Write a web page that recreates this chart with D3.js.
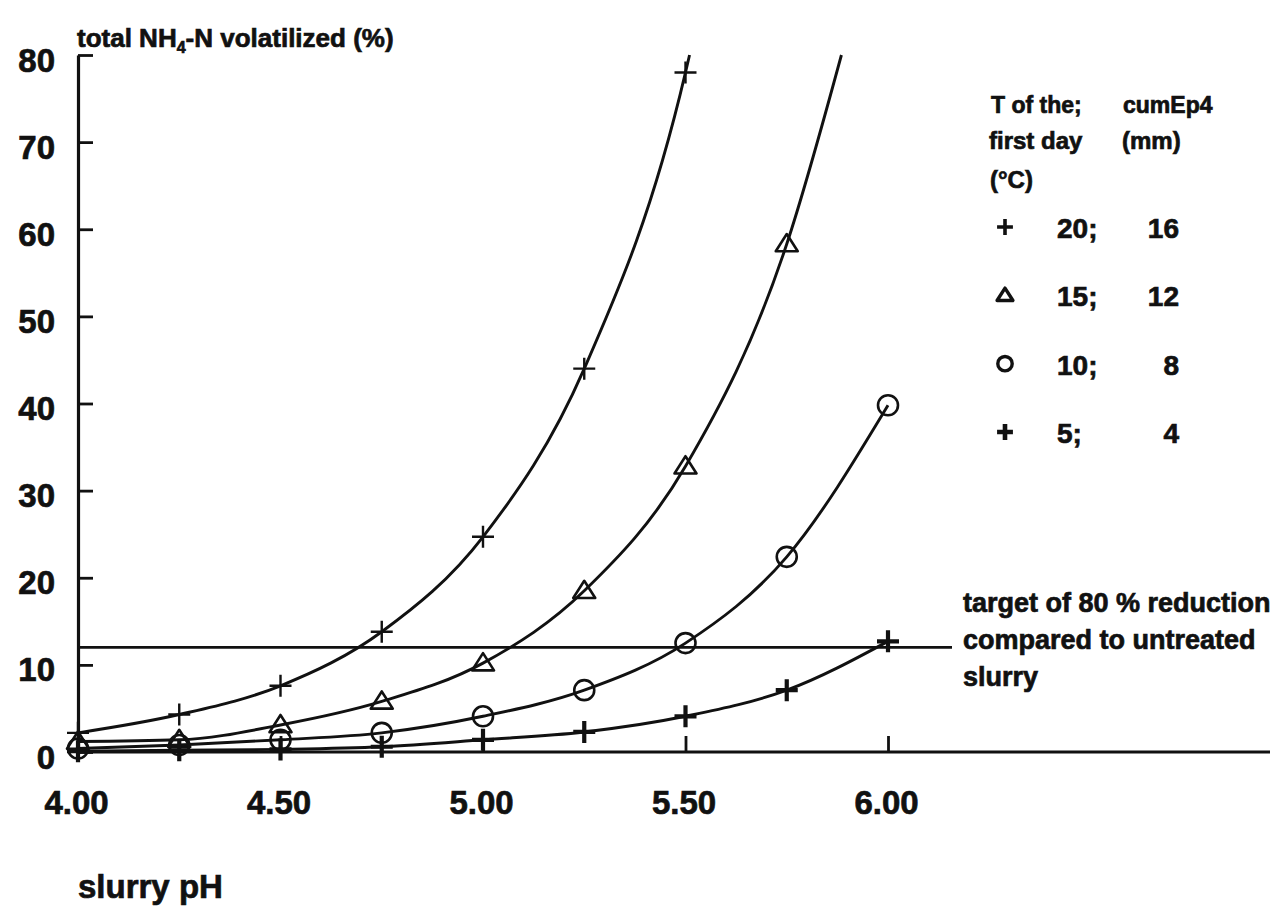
<!DOCTYPE html>
<html>
<head>
<meta charset="utf-8">
<script src="https://cdn.jsdelivr.net/npm/d3@7/dist/d3.min.js"></script>
<style>
  html, body { margin: 0; padding: 0; background: #ffffff; }
  svg { display: block; }
  text { font-family: "Liberation Sans", Arial, Helvetica, sans-serif; font-weight: bold; fill: #111;
         stroke: #111; stroke-width: 0.7px; }
</style>
</head>
<body>
<script>
// Slurry pH levels at which volatilization was computed
const phLevels = [4.00, 4.25, 4.50, 4.75, 5.00, 5.25, 5.50, 5.75, 6.00];

// Total NH4-N volatilized (%) per temperature scenario
const vol20 = [2.2, 4.3, 7.6, 13.8, 24.7, 44.0, 78.0];
const vol15 = [1.2, 1.4, 3.1, 5.8, 10.2, 18.5, 32.8, 58.3];
const vol10 = [0.4, 0.8, 1.4, 2.2, 4.1, 7.1, 12.5, 22.4, 39.8];
const vol5  = [0.1, 0.2, 0.3, 0.6, 1.4, 2.3, 4.1, 7.1, 12.7];

// Where the fitted curves leave the top of the plot
const fitEnd20 = [5.51, 80];
const fitEnd15 = [5.885, 80];

// Scenario descriptors: temperature of the first day and cumulative Ep (4 days)
const tempFirstDay = [20, 15, 10, 5];
const cumEp4 = [16, 12, 8, 4];

// Reduction target (80 % below untreated slurry)
const targetLevel = 12;

// Axis ticks
const xTicks = [4.00, 4.50, 5.00, 5.50, 6.00];
const yTicks = [0, 10, 20, 30, 40, 50, 60, 70, 80];

const W = 1280, H = 908;
const svg = d3.select("body").append("svg").attr("width", W).attr("height", H);

const x = d3.scaleLinear().domain([4, 6]).range([78, 888]);
const y = d3.scaleLinear().domain([0, 80]).range([752, 55]);

const ink = "#111";
const fontStack = "Liberation Sans, Arial, sans-serif";

// ---- marker shapes ----
function plusPath(s) { return `M${-s},0H${s}M0,${-s}V${s}`; }
function triPath(s) { return `M0,${-s}L${s * 1.1},${s * 0.72}L${-s * 1.1},${s * 0.72}Z`; }

const series = [
  { vals: vol20, end: fitEnd20, marker: "plus" },
  { vals: vol15, end: fitEnd15, marker: "tri" },
  { vals: vol10, end: null, marker: "circle" },
  { vals: vol5,  end: null, marker: "boldplus" }
];

function drawMarker(g, kind, cx, cy, scale) {
  const s = scale;
  const legendish = s < 1;
  if (kind === "plus") {
    g.append("path").attr("d", plusPath(11 * s)).attr("transform", `translate(${cx},${cy})`)
      .attr("stroke", ink).attr("stroke-width", legendish ? 3.6 : 2.4).attr("fill", "none");
  } else if (kind === "boldplus") {
    g.append("path").attr("d", plusPath(11 * s)).attr("transform", `translate(${cx},${cy})`)
      .attr("stroke", ink).attr("stroke-width", legendish ? 4.6 : 4.2).attr("fill", "none");
  } else if (kind === "tri") {
    g.append("path").attr("d", triPath(10 * s)).attr("transform", `translate(${cx},${cy})`)
      .attr("stroke", ink).attr("stroke-width", legendish ? 3.4 : 2.6).attr("fill", "none")
      .attr("stroke-linejoin", "round");
  } else {
    g.append("circle").attr("cx", cx).attr("cy", cy).attr("r", 10 * s)
      .attr("stroke", ink).attr("stroke-width", legendish ? 3.4 : 2.6).attr("fill", "none");
  }
}

// ---- axes ----
const yAxis = d3.axisLeft(y).tickValues(yTicks).tickSize(-15).tickSizeOuter(0).tickPadding(23)
  .tickFormat(d3.format("d"));
const gy = svg.append("g").attr("transform", `translate(${x(4)},0)`).call(yAxis);
gy.select(".domain").attr("stroke", ink).attr("stroke-width", 3.2);
gy.selectAll(".tick line").attr("stroke", ink).attr("stroke-width", 2.8);
gy.selectAll(".tick text").attr("font-size", 33).attr("dy", null).attr("y", 16)
  .attr("font-family", fontStack).attr("font-weight", "bold").attr("fill", ink);

const xAxis = d3.axisBottom(x).tickValues(xTicks).tickSize(-16).tickSizeOuter(0).tickPadding(0)
  .tickFormat(d3.format(".2f"));
const gx = svg.append("g").attr("transform", `translate(0,${y(0)})`).call(xAxis);
gx.select(".domain").remove();
gx.selectAll(".tick line").attr("stroke", ink).attr("stroke-width", 2.8);
gx.selectAll(".tick text").attr("font-size", 33).attr("dy", null).attr("y", 62).attr("x", -2)
  .attr("font-family", fontStack).attr("font-weight", "bold").attr("fill", ink);

// zero line runs across the full width
svg.append("line").attr("x1", x(4)).attr("x2", 1270).attr("y1", y(0)).attr("y2", y(0))
  .attr("stroke", ink).attr("stroke-width", 3.2);

// target line
svg.append("line").attr("x1", x(4)).attr("x2", 952).attr("y1", y(targetLevel)).attr("y2", y(targetLevel))
  .attr("stroke", ink).attr("stroke-width", 2.8);

// ---- curves + markers ----
const line = d3.line().x(d => x(d[0])).y(d => y(d[1])).curve(d3.curveMonotoneX);
const gData = svg.append("g");
series.forEach(s => {
  const pts = s.vals.map((v, i) => [phLevels[i], v]);
  const linePts = s.end ? pts.concat([s.end]) : pts;
  gData.append("path").attr("d", line(linePts)).attr("fill", "none")
    .attr("stroke", ink).attr("stroke-width", 2.9);
  pts.forEach(p => drawMarker(gData, s.marker, x(p[0]), y(p[1]), 1));
});

// ---- titles ----
const title = svg.append("text").attr("x", 77).attr("y", 47).attr("font-size", 26);
title.append("tspan").text("total NH");
title.append("tspan").text("4").attr("font-size", 16).attr("dy", 6);
title.append("tspan").text("-N volatilized (%)").attr("dy", -6);

svg.append("text").attr("x", 78).attr("y", 898).attr("font-size", 33).text("slurry pH");

// ---- legend ----
const lg = svg.append("g");
lg.append("text").attr("x", 991).attr("y", 113).attr("font-size", 23).text("T of the;");
lg.append("text").attr("x", 1123).attr("y", 113).attr("font-size", 23).text("cumEp4");
lg.append("text").attr("x", 989).attr("y", 149).attr("font-size", 24).text("first day");
lg.append("text").attr("x", 1122).attr("y", 149).attr("font-size", 24).text("(mm)");
lg.append("text").attr("x", 990).attr("y", 188).attr("font-size", 24).text("(°C)");

const rowY = d3.scalePoint().domain(d3.range(tempFirstDay.length)).range([238, 443]);
tempFirstDay.forEach((t, i) => {
  const by = rowY(i);
  drawMarker(lg, series[i].marker, 1005, by - 11, 0.72);
  lg.append("text").attr("x", 1057).attr("y", by).attr("font-size", 28).text(t + ";");
  lg.append("text").attr("x", 1179).attr("y", by).attr("font-size", 28).attr("text-anchor", "end").text(cumEp4[i]);
});

// ---- target annotation ----
const ann = ["target of 80 % reduction", "compared to untreated", "slurry"];
ann.forEach((t, i) => {
  svg.append("text").attr("x", 963).attr("y", 612 + i * 37).attr("font-size", 27).text(t);
});
</script>
</body>
</html>
